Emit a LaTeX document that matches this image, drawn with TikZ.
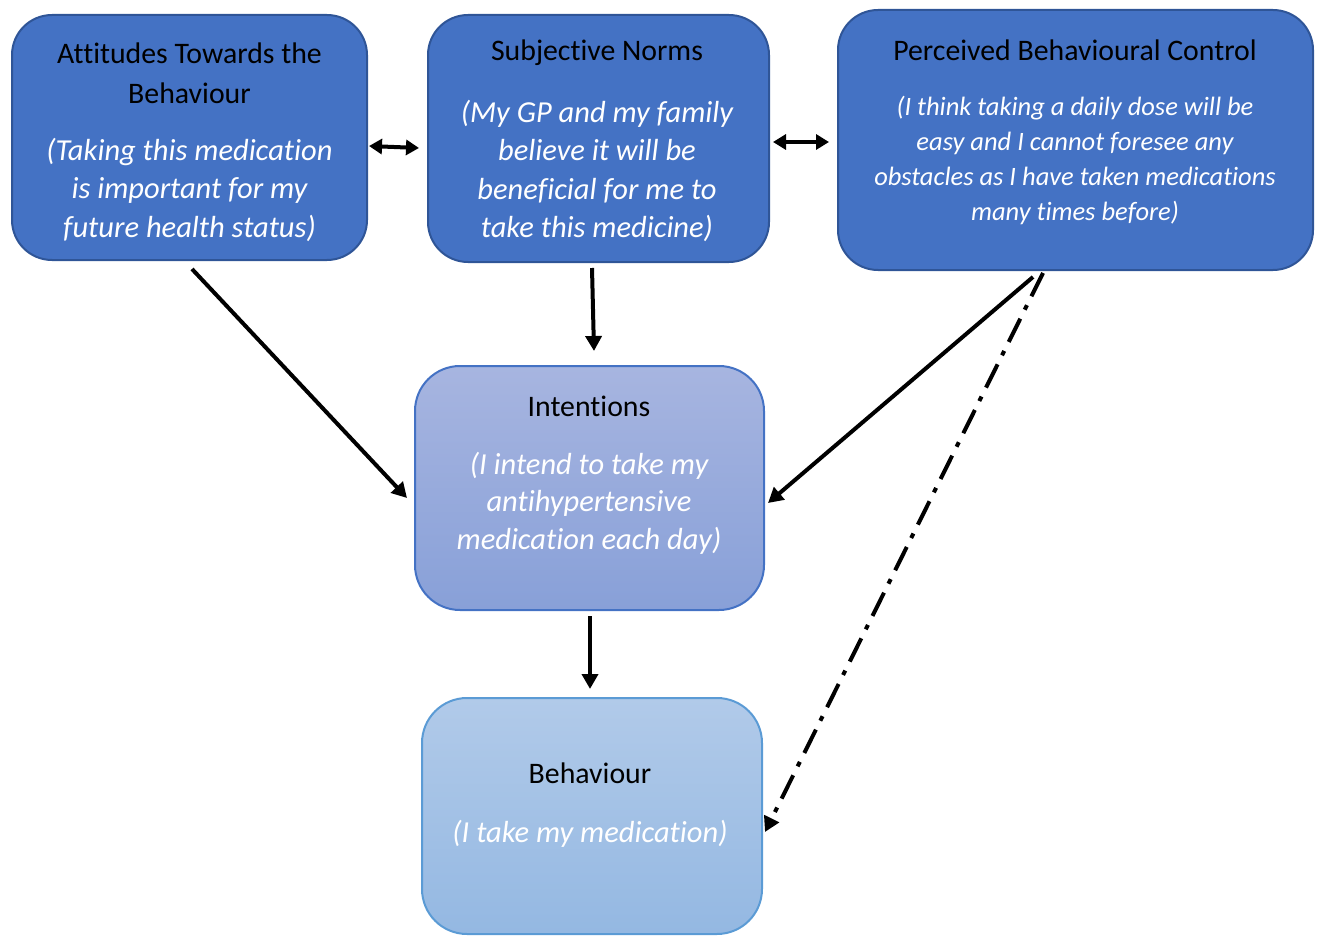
\documentclass[tikz,border=0pt]{standalone}
\usepackage{fontspec}
\setmainfont{Carlito}[Ligatures=NoCommon]
\usetikzlibrary{arrows.meta,calc}

\definecolor{topfill}{HTML}{4472C4}
\definecolor{topedge}{HTML}{2F5597}
\definecolor{inttop}{HTML}{A7B5E0}
\definecolor{intbot}{HTML}{88A0D8}
\definecolor{intedge}{HTML}{4472C4}
\definecolor{behtop}{HTML}{B1CAE9}
\definecolor{behbot}{HTML}{94B8E2}
\definecolor{behedge}{HTML}{5B9BD5}

\tikzset{
  box/.style={draw, line width=2pt, rounded corners=40pt, inner sep=0pt},
  upper/.style={box, fill=topfill, draw=topedge},
  title/.style={inner sep=0pt, align=center, text=black,
    font=\fontsize{29.8}{40}\selectfont},
  body/.style={inner sep=0pt, align=center, text=white,
    font=\fontsize{30.5}{38.5}\selectfont\itshape},
  smallbody/.style={body, font=\fontsize{26.5}{35}\selectfont\itshape},
  link/.style={line width=4pt, -{Triangle[length=15pt,width=16pt]}},
  twoway/.style={line width=4pt, {Triangle[length=13pt,width=15pt]}-{Triangle[length=13pt,width=15pt]}},
}

\begin{document}
\begin{tikzpicture}[x=1pt,y=-1pt]
\useasboundingbox (0,0) rectangle (1320,936);

% upper row of determinants
\node[upper, minimum width=355pt, minimum height=245pt] (att) at (189.5,137.5) {};
\node[upper, minimum width=341pt, minimum height=247pt] (sub) at (598.5,138.5) {};
\node[upper, minimum width=475pt, minimum height=260pt] (pbc) at (1075.5,140) {};

% intention and behaviour
\node[box, rounded corners=45pt, draw=intedge, top color=inttop, bottom color=intbot,
      minimum width=349pt, minimum height=244pt] (int) at (589.5,488) {};
\node[box, rounded corners=45pt, draw=behedge, top color=behtop, bottom color=behbot,
      minimum width=340pt, minimum height=236pt] (beh) at (592,816) {};

% texts
\node[title] (attT) at (189.5,73) {Attitudes Towards the\\Behaviour};
\node[body] (attB) at (189.5,189.5) {(Taking this medication\\is important for my\\future health status)};

\node[title] (subT) at (597,53) {Subjective Norms};
\node[body] (subB) at (597,171) {(My GP and my family\\believe it will be\\beneficial for me to\\take this medicine)};

\node[title] (pbcT) at (1075,50) {Perceived Behavioural Control};
\node[smallbody] (pbcB) at (1075,160) {(I think taking a daily dose will be\\easy and I cannot foresee any\\obstacles as I have taken medications\\many times before)};

\node[title] (intT) at (589,406) {Intentions};
\node[body, font=\fontsize{30.5}{37.5}\selectfont\itshape] (intB) at (589,503) {(I intend to take my\\antihypertensive\\medication each day)};

\node[title] (behT) at (590,773) {Behaviour};
\node[body] (behB) at (590,834) {(I take my medication)};

% connectors
\draw[twoway] ($(att.east)+(1,8.5)$) -- ($(sub.west)+(-8,9.5)$);
\draw[twoway] ($(sub.east)+(3,3.5)$) -- ($(pbc.west)+(-8,2)$);
\draw[link] ($(att.south)+(2.5,8)$) -- ($(int.west)+(-7,10)$);
\draw[link] ($(sub.south)+(-6.5,5)$) -- ($(int.north)+(4.5,-14)$);
\draw[link] ($(pbc.south)+(-42.5,6)$) -- ($(int.east)+(3,15)$);
\draw[link] ($(int.south)+(0.5,5)$) -- ($(beh.north)+(-2,-8)$);
\draw[link, dash pattern=on 26pt off 10pt on 5pt off 10pt]
  ($(pbc.south)+(-32.5,2)$) -- ($(beh.east)+(2,16)$);
\end{tikzpicture}
\end{document}
